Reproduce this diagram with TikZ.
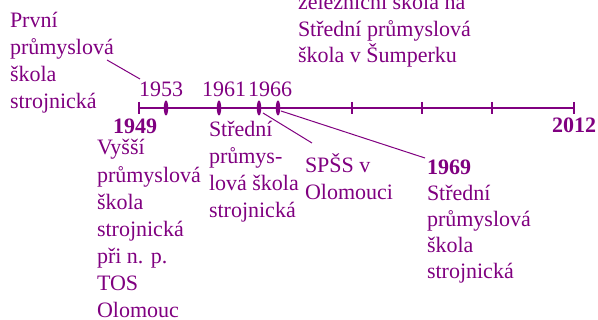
\documentclass[tikz,border=0pt]{standalone}
\usepackage{fontspec}
\setmainfont{Liberation Serif}
\definecolor{pur}{RGB}{128,0,128}
\tikzset{
  lbl/.style={inner sep=0pt, outer sep=0pt, anchor=base west, align=left, text=pur,
    font=\fontsize{22}{26.7}\selectfont},
  yr/.style={lbl, font=\fontsize{22}{26.7}\selectfont\bfseries},
  axisline/.style={draw=pur, line width=1.8pt},
  tickmark/.style={draw=pur, line width=1.4pt},
  bigmark/.style={fill=pur},
  conn/.style={draw=pur, line width=1pt}
}
\begin{document}
\begin{tikzpicture}[x=1pt,y=-1pt]
\useasboundingbox (0,0) rectangle (598,320);
% axis
\coordinate (a0) at (139,108);
\coordinate (a1) at (574,108);
\draw[axisline] (a0) -- (a1);
\foreach \x in {139,352,422,492,574} \draw[tickmark] (\x,102) -- (\x,114);
% thick marks
\fill[bigmark] (166,108) ellipse (2.2 and 7.5);
\fill[bigmark] (219,108) ellipse (2.2 and 7.5);
\fill[bigmark] (259,108) ellipse (2.2 and 7.5);
\fill[bigmark] (278,108) ellipse (2.2 and 7.5);
% labels (anchored at the baseline of the last line)
\node[lbl] (prvni) at (10,108.1) {První\\průmyslová\\škola\\strojnická};
\node[lbl] (y1953) at (139,97) {1953};
\node[lbl] (y1961) at (202,97) {1961};
\node[lbl] (y1966) at (248,97) {1966};
\node[yr] (y1949) at (113,134) {1949};
\node[lbl, font=\fontsize{22}{27.1}\selectfont] (vyssi) at (97,317.6) {Vyšší\\průmyslová\\škola\\strojnická\\při n. p.\\TOS\\Olomouc};
\node[lbl, font=\fontsize{22}{27}\selectfont] (stredni1) at (209,218) {Střední\\průmys-\\lová škola\\strojnická};
\node[lbl] (spss) at (305,199.7) {SPŠS v\\Olomouci};
\node[yr] (y1969) at (427,175) {1969};
\node[lbl, font=\fontsize{22}{26}\selectfont] (stredni2) at (427,279) {Střední\\průmyslová\\škola\\strojnická};
\node[yr] (y2012) at (552,133) {2012};
\node[lbl, font=\fontsize{22}{26.5}\selectfont] (top) at (298,63) {železniční škola na\\Střední průmyslová\\škola v Šumperku};
% connectors
\coordinate (c1a) at (107,60);
\coordinate (c1b) at (140,79);
\draw[conn] (c1a) -- (c1b);
\coordinate (c2a) at (263,113);
\coordinate (c2b) at (312,143);
\draw[conn] (c2a) -- (c2b);
\coordinate (c3a) at (281,111);
\coordinate (c3b) at (425,158);
\draw[conn] (c3a) -- (c3b);
\end{tikzpicture}
\end{document}
